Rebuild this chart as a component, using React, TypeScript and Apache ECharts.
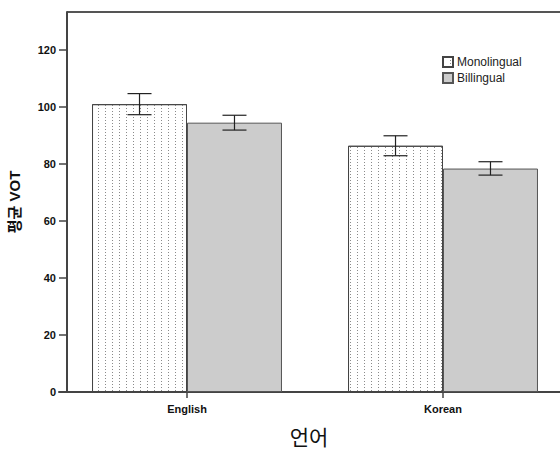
import React, { useEffect, useRef } from "react";
import * as echarts from "echarts";

// Mean VOT by language, with error-bar bounds
const categories = ["English", "Korean"];
const seriesNames = ["Monolingual", "Billingual"];
const monoMean = [101.0, 86.4];
const monoLow = [97.3, 82.9];
const monoHigh = [104.7, 89.9];
const biMean = [94.5, 78.4];
const biLow = [91.9, 76.1];
const biHigh = [97.1, 80.8];
const yTicks = [0, 20, 40, 60, 80, 100, 120];
const yMax = 133.33;

const FONT = "'Liberation Sans', Arial, 'Noto Sans CJK KR', sans-serif";
const CAT_GAP = 0.258; // share of each category band left empty

function errorBarSeries(low: number[], high: number[], side: number) {
  return {
    type: "custom",
    silent: true,
    z: 5,
    data: low.map((lo, i) => [i, lo, high[i]]),
    encode: { x: 0, y: [1, 2] },
    renderItem: (_params: any, api: any) => {
      const idx = api.value(0);
      const lo = api.value(1);
      const hi = api.value(2);
      const band = api.size([1, 0])[0];
      const barW = (band * (1 - CAT_GAP)) / 2;
      const pLo = api.coord([idx, lo]);
      const pHi = api.coord([idx, hi]);
      const cx = pLo[0] + (side * barW) / 2;
      const cap = 12;
      const style = { stroke: "#222", lineWidth: 1.2 };
      return {
        type: "group",
        children: [
          { type: "line", shape: { x1: cx, y1: pLo[1], x2: cx, y2: pHi[1] }, style },
          { type: "line", shape: { x1: cx - cap, y1: pHi[1], x2: cx + cap, y2: pHi[1] }, style },
          { type: "line", shape: { x1: cx - cap, y1: pLo[1], x2: cx + cap, y2: pLo[1] }, style },
        ],
      };
    },
  };
}

export default function App() {
  const ref = useRef<HTMLDivElement>(null);

  useEffect(() => {
    document.body.style.margin = "0";
    if (!ref.current) return;
    const chart = echarts.init(ref.current, null, { renderer: "svg" });
    const axisColor = "#444";
    chart.setOption({
      animation: false,
      backgroundColor: "#ffffff",
      textStyle: { fontFamily: FONT },
      grid: {
        left: 59,
        top: 12,
        width: 512,
        height: 380,
        containLabel: false,
        outerBoundsMode: "none",
      },
      legend: {
        data: seriesNames,
        orient: "vertical",
        left: 442,
        top: 56,
        padding: 0,
        itemWidth: 10,
        itemHeight: 10,
        itemGap: 4,
        icon: "rect",
        textStyle: { fontSize: 12, color: "#222", fontFamily: FONT, padding: [0, 0, 0, -1] },
      },
      xAxis: {
        type: "category",
        data: categories,
        boundaryGap: true,
        axisLine: { show: true, lineStyle: { color: axisColor, width: 2 } },
        axisTick: { show: true, alignWithLabel: true, length: 6, lineStyle: { color: axisColor, width: 1.5 } },
        axisLabel: { fontSize: 11, fontWeight: "bold", color: "#111", margin: 11, fontFamily: FONT },
        splitLine: { show: false },
      },
      yAxis: {
        type: "value",
        min: 0,
        max: yMax,
        interval: 20,
        offset: -8,
        name: "평균 VOT",
        nameLocation: "middle",
        nameGap: 45,
        nameTextStyle: { fontSize: 15, fontWeight: "bold", color: "#111", fontFamily: FONT },
        axisLine: { show: true, lineStyle: { color: axisColor, width: 2 } },
        axisTick: { show: true, length: 8, customValues: yTicks, lineStyle: { color: axisColor, width: 1.5 } },
        axisLabel: { fontSize: 11, fontWeight: "bold", color: "#111", margin: 11, customValues: yTicks, fontFamily: FONT },
        splitLine: { show: false },
      },
      series: [
        {
          name: seriesNames[0],
          type: "bar",
          data: monoMean,
          barGap: "0%",
          barCategoryGap: (CAT_GAP * 100).toFixed(1) + "%",
          itemStyle: {
            color: "#ffffff",
            borderColor: "#444",
            borderWidth: 1,
            decal: {
              symbol: "rect",
              symbolSize: 1,
              dashArrayX: [1, 6],
              dashArrayY: [1, 2],
              color: "#8a8a8a",
            },
          },
        },
        {
          name: seriesNames[1],
          type: "bar",
          data: biMean,
          itemStyle: { color: "#cccccc", borderColor: "#555", borderWidth: 1 },
        },
        errorBarSeries(monoLow, monoHigh, -1),
        errorBarSeries(biLow, biHigh, 1),
      ],
      graphic: [
        {
          type: "line",
          shape: { x1: 67, y1: 12, x2: 560, y2: 12 },
          style: { stroke: "#555", lineWidth: 2 },
          silent: true,
        },
        {
          type: "text",
          x: 309,
          y: 436,
          style: {
            text: "언어",
            fontSize: 21,
            fill: "#111",
            align: "center",
            verticalAlign: "middle",
            fontFamily: "'Noto Sans CJK KR', sans-serif",
          },
        },
      ],
    });
    return () => chart.dispose();
  }, []);

  return <div ref={ref} style={{ width: 560, height: 450 }} />;
}
